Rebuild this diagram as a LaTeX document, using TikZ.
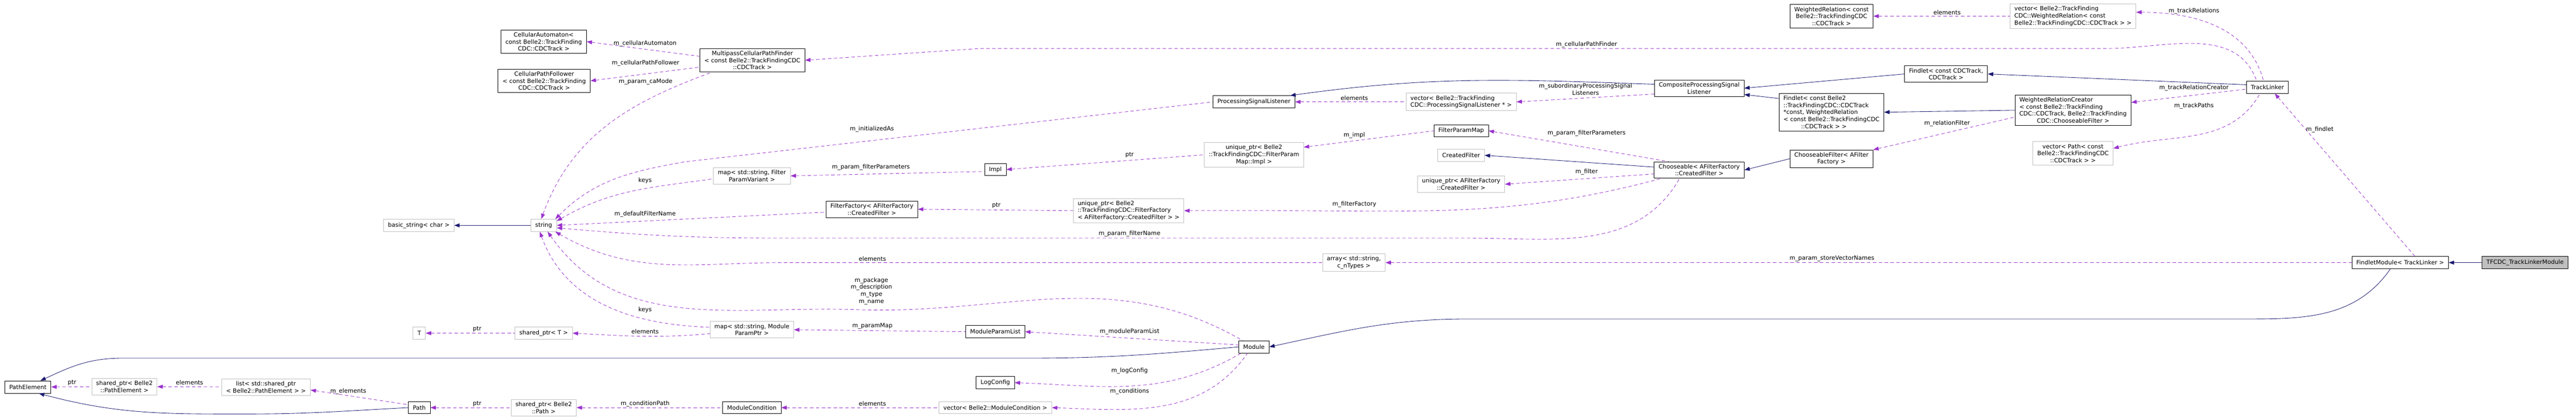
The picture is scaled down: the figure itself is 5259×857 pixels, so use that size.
\documentclass[tikz,border=0pt]{standalone}
\usepackage{fontspec}
\setmainfont{DejaVu Sans}
\usetikzlibrary{arrows.meta}

\definecolor{depcol}{HTML}{9A32CD}
\definecolor{inhcol}{HTML}{191970}
\definecolor{extcol}{HTML}{BFBFBF}

\tikzset{
  cls/.style={draw=black, fill=white, align=center, inner xsep=9pt, inner ysep=5pt, minimum height=25pt, font=\fontsize{12}{14.3}\selectfont},
  extcls/.style={cls, draw=extcol},
  topcls/.style={cls, fill=extcol},
  inh/.style={draw=inhcol, {Triangle[length=11pt,width=8pt]}-},
  dep/.style={draw=depcol, dashed, dash pattern=on 7pt off 5pt, {Triangle[length=11pt,width=8pt,fill=depcol]}-},
  lbl/.style={align=center, inner sep=0.75pt, font=\fontsize{12}{14.3}\selectfont}
}

\begin{document}
\begin{tikzpicture}[x=1pt,y=1pt,line width=0.9pt]
\useasboundingbox (0,0) rectangle (5259,857);

%Nodes: path elements
\node[cls] (pe) at (57,67) {PathElement};
\node[extcls] (spe) at (254,68) {shared\_ptr< Belle2\\::PathElement >};
\node[extcls] (lst) at (543,67) {list< std::shared\_ptr\\< Belle2::PathElement > >};
\node[cls] (path) at (856,25) {Path};
\node[extcls] (bstr) at (855,397) {basic\_string< char >};
\node[extcls] (tt) at (856,177) {T};

%Nodes: second column
\node[cls] (ca) at (1110,772) {CellularAutomaton<\\const Belle2::TrackFinding\\CDC::CDCTrack >};
\node[cls] (cpf) at (1111,692) {CellularPathFollower\\< const Belle2::TrackFinding\\CDC::CDCTrack >};
\node[extcls] (str) at (1110,397) {string};
\node[extcls] (st) at (1110,177) {shared\_ptr< T >};
\node[extcls] (spath) at (1110,25) {shared\_ptr< Belle2\\::Path >};

%Nodes: third column
\node[cls] (mp) at (1536,734) {MultipassCellularPathFinder\\< const Belle2::TrackFindingCDC\\::CDCTrack >};
\node[extcls] (mapfp) at (1535,498) {map< std::string, Filter\\ParamVariant >};
\node[cls] (ff) at (1780,430) {FilterFactory< AFilterFactory\\::CreatedFilter >};
\node[extcls] (mapmp) at (1535,184) {map< std::string, Module\\ParamPtr >};
\node[cls] (mc) at (1535,25) {ModuleCondition};

%Nodes: fourth column
\node[cls] (impl) at (2032,511) {Impl};
\node[cls] (mpl) at (2032,180) {ModuleParamList};
\node[cls] (logc) at (2032,76) {LogConfig};
\node[extcls] (vmc) at (2032,25) {vector< Belle2::ModuleCondition >};
\node[extcls, align=left] (uff) at (2304,427) {unique\_ptr< Belle2\\::TrackFindingCDC::FilterFactory\\< AFilterFactory::CreatedFilter > >};
\node[cls] (psl) at (2560,649) {ProcessingSignalListener};
\node[extcls] (uimpl) at (2560,541) {unique\_ptr< Belle2\\::TrackFindingCDC::FilterParam\\Map::Impl >};
\node[cls] (module) at (2560,149) {Module};

%Nodes: fifth column
\node[extcls, align=left] (vpsl) at (2983,649) {vector< Belle2::TrackFinding\\CDC::ProcessingSignalListener * >};
\node[cls] (fpm) at (2983,590) {FilterParamMap};
\node[extcls] (cf) at (2983,540) {CreatedFilter};
\node[extcls] (ucf) at (2983,481) {unique\_ptr< AFilterFactory\\::CreatedFilter >};
\node[extcls] (arr) at (2764,321) {array< std::string,\\c\_nTypes >};
\node[cls] (cpsl) at (3469,677) {CompositeProcessingSignal\\Listener};
\node[cls] (ch) at (3469,510) {Chooseable< AFilterFactory\\::CreatedFilter >};

%Nodes: findlets
\node[cls] (wr) at (3739,824) {WeightedRelation< const\\Belle2::TrackFindingCDC\\::CDCTrack >};
\node[cls] (fcdc) at (3973,706) {Findlet< const CDCTrack,\\CDCTrack >};
\node[cls, align=left] (fb) at (3739,628) {Findlet< const Belle2\\::TrackFindingCDC::CDCTrack\\ *const, WeightedRelation\\< const Belle2::TrackFindingCDC\\ \qquad\quad ::CDCTrack > >};
\node[cls] (chf) at (3739,533) {ChooseableFilter< AFilter\\Factory >};
\node[extcls, align=left] (vwr) at (4232,824) {vector< Belle2::TrackFinding\\CDC::WeightedRelation< const\\ Belle2::TrackFindingCDC::CDCTrack > >};
\node[cls, align=left] (wrc) at (4232,632) {WeightedRelationCreator\\< const Belle2::TrackFinding\\CDC::CDCTrack, Belle2::TrackFinding\\ \qquad\quad CDC::ChooseableFilter >};
\node[extcls] (vpath) at (4232,544) {vector< Path< const\\Belle2::TrackFindingCDC\\::CDCTrack > >};
\node[cls] (tl) at (4629,679) {TrackLinker};
\node[cls] (fm) at (4900,321) {FindletModule< TrackLinker >};
\node[topcls] (top) at (5155,321) {TFCDC\_TrackLinkerModule};

%Inheritance
\draw[inh] (fm) -- (top);
\draw[inh] (module.east) to[out=12,in=180] (3000,206) -- (4600,206) to[out=0,in=-125] ([xshift=-20pt]fm.south);
\draw[inh] ([xshift=-22pt]pe.north east) to[out=25,in=180] (250,126) -- (2100,126) to[out=0,in=185] (module.west);
\draw[inh] ([xshift=-25pt]pe.south east) to[out=-15,in=180] (500,12) to[out=0,in=183] (path.west);
\draw[inh] (fcdc.east) -- ([yshift=5pt]tl.west);
\draw[inh] (cpsl.east) -- (fcdc.west);
\draw[inh] ([yshift=-13pt]cpsl.east) -- ([yshift=28pt]fb.west);
\draw[inh] (fb.east) -- (wrc.west);
\draw[inh] ([xshift=-10pt]psl.north east) to[out=8,in=178] ([yshift=8pt]cpsl.west);
\draw[inh] (ch.east) -- (chf.west);
\draw[inh] (cf.east) -- ([yshift=6pt]ch.west);
\draw[inh] (bstr) -- (str);

%Usage
\draw[dep] (mp.east) -- (2000,758) -- (4300,758) to[out=0,in=110] ([xshift=-22pt]tl.north);
\draw[dep] (ca.east) -- ([yshift=8pt]mp.west);
\draw[dep] (cpf.east) -- ([yshift=-14pt]mp.west);
\draw[dep] ([xshift=-5pt]str.north) to[out=70,in=200] ([xshift=25pt]mp.south west);
\draw[dep] ([xshift=-3pt]str.north east) to[out=45,in=190] (1400,527) -- (psl.west);
\draw[dep] ([yshift=-4pt]str.north east) to[out=30,in=188] ([yshift=-6pt]mapfp.west);
\draw[dep] (mapfp.east) -- ([yshift=-4pt]impl.west);
\draw[dep] (impl.east) -- (uimpl.west);
\draw[dep] ([yshift=-10pt]uimpl.north east) -- (fpm.west);
\draw[dep] (fpm.east) -- ([xshift=30pt]ch.north west);
\draw[dep] (str.east) -- ([yshift=-6pt]ff.west);
\draw[dep] (ff.east) -- (uff.west);
\draw[dep] (uff.east) -- (2600,427) to[out=0,in=195] ([xshift=15pt]ch.south west);
\draw[dep] (ucf.east) -- ([yshift=-8pt]ch.west);
\draw[dep] ([yshift=-5pt]str.east) to[out=-5,in=180] (1600,371) -- (3000,371) to[out=0,in=-120] ([xshift=-40pt]ch.south);
\draw[dep] ([xshift=-3pt]str.south east) to[out=-30,in=180] (1600,321) -- (arr.west);
\draw[dep] (arr.east) -- (fm.west);
\draw[dep] ([xshift=8pt]str.south) to[out=-55,in=178] (1750,225) to[out=-2,in=150] ([xshift=8pt]module.north west);
\draw[dep] ([xshift=-8pt]str.south) to[out=-70,in=178] ([yshift=5pt]mapmp.west);
\draw[dep] (st.east) to[out=-3,in=185] ([yshift=-8pt]mapmp.west);
\draw[dep] (tt) -- (st);
\draw[dep] (mapmp.east) -- (mpl.west);
\draw[dep] (mpl.east) -- ([yshift=4pt]module.west);
\draw[dep] (logc.east) to[out=-2,in=-150] ([xshift=5pt]module.south west);
\draw[dep] (vmc.east) to[out=-2,in=-125] ([xshift=18pt]module.south west);
\draw[dep] (mc) -- (vmc);
\draw[dep] (spath) -- (mc);
\draw[dep] (path) -- (spath);
\draw[dep] ([yshift=-6pt]lst.east) -- ([yshift=6pt]path.west);
\draw[dep] (spe) -- (lst);
\draw[dep] (pe) -- (spe);
\draw[dep] (psl) -- (vpsl);
\draw[dep] (vpsl.east) -- ([yshift=-12pt]cpsl.west);
\draw[dep] (wr) -- (vwr);
\draw[dep] ([yshift=8pt]vwr.east) to[out=0,in=105] ([xshift=-8pt]tl.north);
\draw[dep] ([yshift=16pt]wrc.east) -- ([yshift=-4pt]tl.west);
\draw[dep] ([yshift=10pt]vpath.east) to[out=15,in=-120] ([xshift=-15pt]tl.south);
\draw[dep] (chf.north east) -- ([yshift=-14pt]wrc.west);
\draw[dep] ([xshift=15pt]tl.south) -- ([xshift=30pt]fm.north);

% Text Node
\node[lbl] at (1317,768) {m\_cellularAutomaton};
\node[lbl] at (1318,728) {m\_cellularPathFollower};
\node[lbl] at (1318,690) {m\_param\_caMode};
\node[lbl] at (1780,593) {m\_initializedAs};
\node[lbl] at (1317,489) {keys};
\node[lbl] at (1778,516) {m\_param\_filterParameters};
\node[lbl] at (2306,541) {ptr};
\node[lbl] at (2765,581) {m\_impl};
\node[lbl] at (3239,585) {m\_param\_filterParameters};
\node[lbl] at (1317,420) {m\_defaultFilterName};
\node[lbl] at (2034,438) {ptr};
\node[lbl] at (2765,440) {m\_filterFactory};
\node[lbl] at (3239,506) {m\_filter};
\node[lbl] at (2306,380) {m\_param\_filterName};
\node[lbl] at (1781,329) {elements};
\node[lbl] at (3740,329) {m\_param\_storeVectorNames};
\node[lbl] at (1779,263) {m\_package\\m\_description\\m\_type\\m\_name};
\node[lbl] at (1317,225) {keys};
\node[lbl] at (1317,180) {elements};
\node[lbl] at (974,185) {ptr};
\node[lbl] at (1781,192) {m\_paramMap};
\node[lbl] at (2306,180) {m\_moduleParamList};
\node[lbl] at (2306,100) {m\_logConfig};
\node[lbl] at (2306,58) {m\_conditions};
\node[lbl] at (1781,33) {elements};
\node[lbl] at (1317,33) {m\_conditionPath};
\node[lbl] at (974,33) {ptr};
\node[lbl] at (711,58) {m\_elements};
\node[lbl] at (387,76) {elements};
\node[lbl] at (147,76) {ptr};
\node[lbl] at (2765,657) {elements};
\node[lbl] at (3237,675) {m\_subordinaryProcessingSignal\\Listeners};
\node[lbl] at (3239,766) {m\_cellularPathFinder};
\node[lbl] at (3975,832) {elements};
\node[lbl] at (4479,834) {m\_trackRelations};
\node[lbl] at (4479,678) {m\_trackRelationCreator};
\node[lbl] at (4479,641) {m\_trackPaths};
\node[lbl] at (3975,605) {m\_relationFilter};
\node[lbl] at (4736,592) {m\_findlet};

\end{tikzpicture}
\end{document}
